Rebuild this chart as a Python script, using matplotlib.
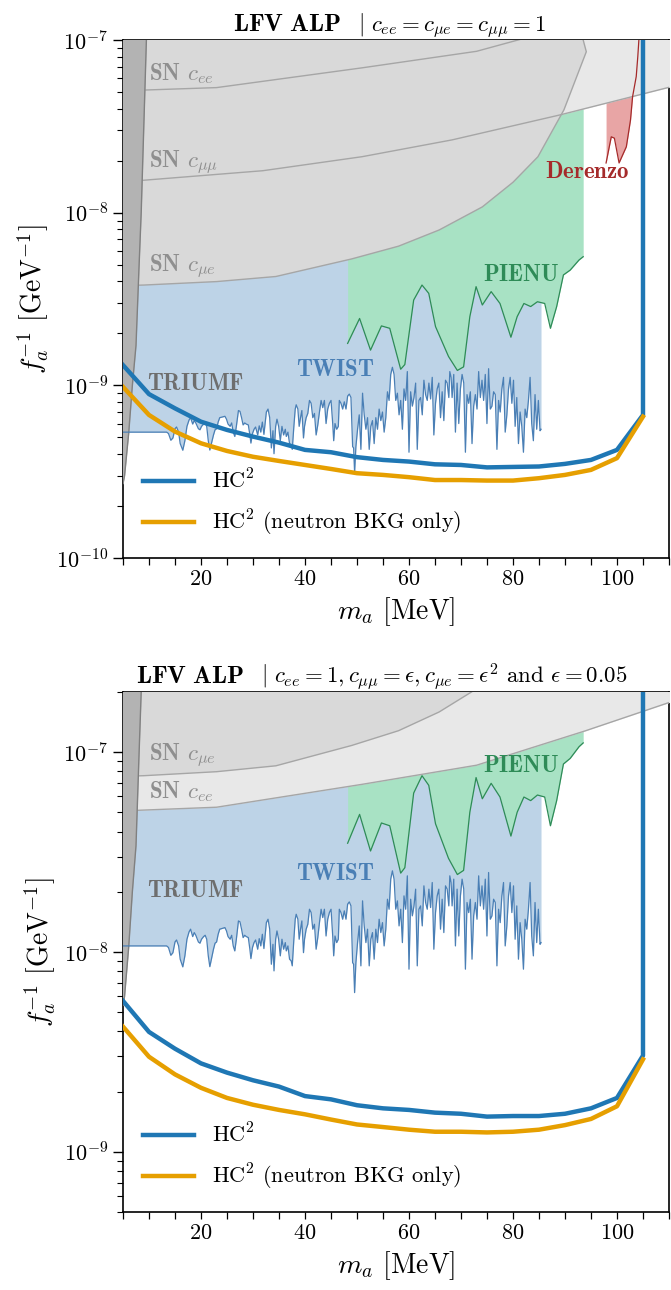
import numpy as np
import matplotlib
matplotlib.use("Agg")
import matplotlib.pyplot as plt
from matplotlib.ticker import MultipleLocator, LogLocator, NullFormatter
from matplotlib.transforms import offset_copy

plt.rcParams.update({
    "font.family": "serif",
    "font.serif": ["cmr10"],
    "mathtext.fontset": "cm",
    "axes.formatter.use_mathtext": True,
    "axes.linewidth": 1.2,
})

eps = 0.05
TOP = 1e-4  # fills are open towards large couplings

# HC^2 projected reach, GeV^-1, on a 5 MeV grid (last point: threshold)
m_hc2 = [5, 10, 15, 20, 25, 30, 35, 40, 45, 50, 55, 60, 65, 70, 75, 80,
         85, 90, 95, 100, 105]
hc2_a = [1.31e-9, 8.9e-10, 7.36e-10, 6.16e-10, 5.52e-10, 5.05e-10, 4.66e-10,
         4.23e-10, 4.10e-10, 3.84e-10, 3.70e-10, 3.62e-10, 3.49e-10, 3.46e-10,
         3.35e-10, 3.37e-10, 3.39e-10, 3.51e-10, 3.70e-10, 4.23e-10, 6.74e-10]
hc2n_a = [9.8e-10, 6.74e-10, 5.40e-10, 4.62e-10, 4.17e-10, 3.86e-10, 3.65e-10,
          3.46e-10, 3.28e-10, 3.10e-10, 3.03e-10, 2.94e-10, 2.83e-10, 2.83e-10,
          2.81e-10, 2.81e-10, 2.90e-10, 3.03e-10, 3.24e-10, 3.79e-10, 6.59e-10]
hc2_b = [5.69e-9, 3.98e-9, 3.28e-9, 2.77e-9, 2.49e-9, 2.28e-9, 2.12e-9,
         1.90e-9, 1.83e-9, 1.71e-9, 1.65e-9, 1.62e-9, 1.57e-9, 1.55e-9,
         1.50e-9, 1.51e-9, 1.51e-9, 1.55e-9, 1.65e-9, 1.86e-9, 3.03e-9]
hc2n_b = [4.23e-9, 2.99e-9, 2.44e-9, 2.09e-9, 1.86e-9, 1.72e-9, 1.62e-9,
          1.54e-9, 1.45e-9, 1.37e-9, 1.33e-9, 1.29e-9, 1.26e-9, 1.26e-9,
          1.25e-9, 1.26e-9, 1.29e-9, 1.36e-9, 1.46e-9, 1.69e-9, 2.90e-9]
m_thr = 105.0

# TWIST (and TRIUMF plateau) for c_mue = 1: (m_a [MeV], f_a^-1 [1e-10 GeV^-1])
twist_pts = [
    (5.0, 5.36), (13.4, 5.36), (13.75, 5.26), (14.2, 4.81), (14.6, 4.96),
    (15.0, 5.61), (15.3, 5.74), (15.7, 5.36), (16.0, 4.60), (16.5, 4.21),
    (16.9, 4.78), (17.3, 5.79), (17.7, 6.30), (18.0, 6.50), (18.4, 5.97),
    (18.7, 6.25), (19.0, 6.06), (19.5, 5.61), (19.8, 5.53), (20.1, 5.79),
    (20.5, 5.97), (20.8, 6.06), (21.1, 5.79), (21.4, 4.78), (21.7, 4.22),
    (22.0, 4.60), (22.4, 5.16), (22.7, 5.53), (23.0, 5.61), (23.3, 6.13),
    (23.6, 6.50), (24.0, 6.55), (24.3, 6.58), (24.6, 6.62), (24.9, 6.37),
    (25.2, 5.97), (25.6, 5.79), (25.9, 6.06), (26.2, 5.36), (26.5, 5.06),
    (26.8, 5.79), (27.2, 7.15), (27.5, 7.07), (27.8, 6.50), (28.1, 5.90),
    (28.4, 6.06), (28.7, 5.97), (29.1, 5.90), (29.4, 5.16), (29.6, 4.63),
    (29.9, 5.26), (30.2, 5.57), (30.5, 5.74), (30.9, 5.16), (31.2, 5.83),
    (31.5, 5.36), (31.8, 6.13), (32.1, 5.20), (32.57, 7.01), (32.89, 7.29),
    (33.21, 6.50), (33.53, 4.34), (33.84, 5.46), (34.04, 4.02), (34.36, 5.79),
    (34.61, 6.37), (34.93, 5.79), (35.25, 4.78), (35.57, 5.79), (35.89, 5.16),
    (36.21, 5.57), (36.40, 5.06), (36.72, 5.36), (37.03, 4.60), (37.35, 4.51),
    (37.55, 4.26), (37.86, 5.79), (38.12, 7.29), (38.31, 7.72), (38.63, 7.29),
    (38.88, 5.79), (39.14, 6.50), (39.40, 7.15), (39.71, 4.96), (39.91, 5.79),
    (40.22, 6.50), (40.54, 6.88), (40.86, 8.18), (41.18, 7.87), (41.50, 6.50),
    (41.82, 6.88), (42.14, 5.16), (42.46, 5.90), (42.78, 7.01), (43.10, 8.18),
    (43.41, 7.43), (43.73, 8.18), (44.05, 6.01), (44.37, 7.29), (44.69, 7.87),
    (45.01, 8.18), (45.33, 6.01), (45.52, 4.78), (45.77, 6.01), (46.09, 5.57),
    (46.41, 5.79), (46.60, 8.18), (46.92, 7.87), (47.24, 7.29), (47.56, 8.03),
    (47.88, 7.29), (48.20, 8.67), (48.52, 8.90), (48.84, 8.50), (49.16, 4.42),
    (49.35, 4.34), (49.54, 3.13), (49.79, 4.42), (50.11, 5.57), (50.43, 6.75),
    (50.75, 4.26), (51.07, 9.01), (51.39, 6.75), (51.71, 5.57), (52.03, 6.50),
    (52.35, 4.26), (52.66, 5.79), (52.98, 6.25), (53.30, 4.60), (53.62, 6.50),
    (53.94, 5.57), (54.26, 7.29), (54.58, 6.25), (54.90, 7.01), (55.22, 5.36),
    (55.54, 6.50), (55.86, 9.18), (56.17, 8.18), (56.49, 11.57), (56.81, 12.73),
    (57.13, 11.57), (57.45, 8.18), (57.77, 9.01), (58.09, 6.75), (58.41, 8.18),
    (58.73, 5.57), (59.04, 9.54), (59.36, 8.18), (59.68, 12.02), (60.00, 4.10),
    (60.32, 9.18), (60.64, 7.58), (60.96, 8.50), (61.28, 10.31), (61.59, 4.26),
    (61.91, 8.18), (62.23, 8.50), (62.55, 6.75), (62.87, 10.71), (63.19, 8.84),
    (63.51, 8.18), (63.83, 10.31), (64.15, 8.34), (64.47, 11.13), (64.78, 5.16),
    (65.10, 7.87), (65.42, 9.54), (65.74, 10.31), (66.06, 6.50), (66.38, 9.18),
    (66.70, 6.25), (67.02, 10.71), (67.34, 10.31), (67.66, 8.50), (67.85, 12.02),
    (68.10, 11.13), (68.29, 8.50), (68.61, 11.57), (68.93, 5.36), (69.25, 10.31),
    (69.57, 6.01), (69.89, 9.54), (70.21, 11.57), (70.53, 10.31), (70.85, 4.10),
    (71.16, 8.84), (71.48, 7.87), (71.80, 9.18), (72.12, 4.60), (72.44, 7.58),
    (72.76, 8.84), (73.08, 7.29), (73.40, 12.02), (73.72, 8.50), (74.04, 10.71),
    (74.35, 8.18), (74.67, 11.57), (74.99, 6.01), (75.31, 12.49), (75.63, 7.29),
    (75.95, 7.58), (76.27, 9.18), (76.59, 8.84), (76.91, 4.26), (77.23, 8.18),
    (77.54, 7.01), (77.86, 9.54), (78.18, 11.13), (78.50, 5.36), (78.82, 6.75),
    (79.14, 9.54), (79.46, 11.13), (79.78, 7.87), (80.10, 10.71), (80.41, 5.79),
    (80.73, 8.50), (81.05, 4.60), (81.37, 7.01), (81.69, 5.79), (82.01, 4.10),
    (82.33, 7.29), (82.65, 6.50), (82.97, 8.18), (83.29, 11.13), (83.60, 6.01),
    (83.92, 4.78), (84.24, 8.84), (84.56, 5.57), (84.88, 8.18), (85.20, 5.46),
    (85.39, 5.57),
]
twist_m = np.array([p[0] for p in twist_pts])
twist_v = np.array([p[1] for p in twist_pts]) * 1e-10

# PIENU for c_mue = 1
pienu_m = [48.2, 50.5, 52.6, 54.7, 56.3, 58.4, 59.2, 60.9, 62.5, 63.8, 65.1,
           67.6, 69.3, 70.5, 71.7, 72.9, 74.1, 75.8, 77.5, 79.6, 80.8, 82.1,
           83.4, 84.7, 86.1, 87.2, 88.4, 89.7, 91.0, 92.7, 93.5]
pienu_v = np.array([17.5, 24.4, 16.0, 22.1, 21.4, 12.4, 13.2, 31.2, 38.1,
                    34.1, 21.9, 14.7, 12.2, 12.8, 25.0, 37.3, 29.2, 34.9, 29.8,
                    19.0, 25.0, 29.8, 28.6, 30.5, 29.8, 21.4, 28.6, 43.6, 46.5,
                    53.2, 55.6]) * 1e-10

# Derenzo for c_mue = 1
der_m = [97.9, 98.9, 99.5, 100.4, 101.8, 102.6, 103.0, 103.7, 104.0, 104.3]
der_v = np.array([1.94e-8, 2.75e-8, 2.70e-8, 1.94e-8, 2.41e-8, 3.44e-8,
                  4.70e-8, 6.14e-8, 8.0e-8, 1.1e-7])

# supernova bounds
sn_ee_m = [0, 5, 23, 51, 73, 94, 110, 115]
sn_ee_v = np.array([5.05e-8, 5.08e-8, 5.3e-8, 6.9e-8, 8.6e-8, 1.28e-7,
                    1.77e-7, 1.9e-7])
sn_mumu_m = [0, 5.3, 31.9, 51.0, 68.3, 89.0, 110, 115]
sn_mumu_v = np.array([1.5e-8, 1.51e-8, 1.75e-8, 2.11e-8, 2.64e-8, 3.68e-8,
                      5.32e-8, 5.6e-8])
sn_mue_m = [0, 9, 23, 34.4, 49, 58, 65.8, 74.1, 80, 84.8, 89.8, 94.1, 93.5, 93.0]
sn_mue_v = np.array([3.75e-9, 3.81e-9, 3.99e-9, 4.27e-9, 5.4e-9, 6.4e-9,
                     7.94e-9, 1.08e-8, 1.5e-8, 2.11e-8, 3.94e-8, 8.55e-8,
                     1.0e-7, 2.0e-7])

# low-mass excluded band (edge m_a vs f_a^-1), c_mue = 1
band_m = [5.0, 5.3, 6.1, 6.8, 7.5, 8.1, 8.5, 9.5, 9.8]
band_v = np.array([2.7e-10, 3.0e-10, 5.3e-10, 1.0e-9, 1.7e-9, 5e-9, 1e-8,
                   1e-7, 2e-7])

C_HC2 = "#1f77b4"
C_HC2N = "#e69f00"
C_TWIST = "#4a7fb5"
C_PIENU = "#2e8b57"
C_DER = "#a52a2a"
C_SN = "#8f8f8f"


def draw(ax, s_mue, s_mumu, hc2, hc2n, ylim, title, labels):
    ax.set_yscale("log")

    tw = twist_v * s_mue
    ax.fill_between(twist_m, tw, TOP, color="#bdd3e7", lw=0, zorder=1)
    ax.plot(twist_m, tw, color=C_TWIST, lw=0.9, zorder=6)

    pi = pienu_v * s_mue
    ax.fill_between(pienu_m, pi, TOP, color="#a8e2c4", lw=0, zorder=2)
    ax.plot(pienu_m, pi, color=C_PIENU, lw=0.9, zorder=2.5)

    de = der_v * s_mue
    ax.fill_between(der_m, de, TOP, color="#e8a5a5", lw=0, zorder=2)
    ax.plot(der_m, de, color=C_DER, lw=0.9, zorder=5.5)

    mm = sn_mumu_v * s_mumu
    ax.fill_between(sn_mumu_m, mm, TOP, color="#e8e8e8", lw=0, zorder=3)
    ax.fill_between(sn_ee_m, sn_ee_v, TOP, color="#e8e8e8", lw=0, zorder=3)
    me = sn_mue_v * s_mue
    ax.fill(list(sn_mue_m) + [93.0, 0], list(me) + [TOP, TOP],
            color="#d9d9d9", lw=0, zorder=3.5)
    for xs, ys in [(sn_mumu_m, mm), (sn_ee_m, sn_ee_v), (sn_mue_m, me)]:
        ax.plot(xs, ys, color="#a6a6a6", lw=1.0, zorder=4)

    bv = band_v * s_mue
    ax.fill_betweenx(bv, 0, band_m, color="#b3b3b3", lw=0, zorder=5)
    ax.plot(band_m, bv, color="#808080", lw=1.0, zorder=5)

    ax.plot(m_hc2 + [m_thr], hc2 + [TOP], color=C_HC2, lw=3.2, zorder=7,
            label=r"HC$^2$")
    ax.plot(m_hc2, hc2n, color=C_HC2N, lw=3.2, zorder=7,
            label=r"HC$^2$ (neutron BKG only)")

    for txt, x, y, s, c, ha in labels:
        ax.text(x, y * s, txt, color=c, fontsize=16.5, ha=ha, va="center",
                zorder=8)

    ax.set_xlim(5, 110)
    ax.set_ylim(*ylim)
    ax.xaxis.set_major_locator(MultipleLocator(20))
    ax.xaxis.set_minor_locator(MultipleLocator(5))
    ax.yaxis.set_major_locator(LogLocator(base=10))
    ax.yaxis.set_minor_locator(LogLocator(base=10, subs=np.arange(2, 10)))
    ax.yaxis.set_minor_formatter(NullFormatter())
    ax.tick_params(axis="both", which="major", labelsize=16, direction="out")
    ax.tick_params(axis="y", which="major", length=7, width=1)
    ax.tick_params(axis="y", which="minor", length=4, width=0.8)
    ax.tick_params(axis="x", which="both", length=5, width=0.9)

    ax.set_xlabel(r"$m_a$ [MeV]", fontsize=20)
    ax.set_ylabel(r"$f_a^{-1}$ [GeV$^{-1}$]", fontsize=20)

    # title: bold tag on the left of the bar, couplings on the right
    tag, cond, x_split = title
    tr = offset_copy(ax.transAxes, fig=ax.figure, y=9, units="dots")
    ax.text(x_split - 0.03, 1.0, r"$\mathbf{LFV\ ALP}$", transform=tr,
            fontsize=18, ha="right", va="baseline")
    ax.text(x_split, 1.0, cond, transform=tr, fontsize=16.5, ha="left",
            va="baseline")

    ax.legend(loc="lower left", frameon=False, fontsize=16, handlelength=2.3,
              labelspacing=0.7, borderaxespad=0.5)


fig = plt.figure(figsize=(6.71, 12.9), dpi=100)
ax1 = fig.add_axes([0.1833, 0.5674, 0.8137, 0.4016])
ax2 = fig.add_axes([0.1833, 0.0605, 0.8137, 0.4031])

sn = r"$\mathbf{SN}$ "
labels_top = [
    (sn + r"$c_{ee}$", 10.0, 6.4e-8, 1, C_SN, "left"),
    (sn + r"$c_{\mu\mu}$", 10.0, 1.97e-8, 1, C_SN, "left"),
    (sn + r"$c_{\mu e}$", 10.0, 4.86e-9, 1, C_SN, "left"),
    (r"$\mathbf{PIENU}$", 81.5, 4.36e-9, 1, C_PIENU, "center"),
    (r"$\mathbf{TWIST}$", 45.8, 1.24e-9, 1, C_TWIST, "center"),
    (r"$\mathbf{TRIUMF}$", 18.9, 1.02e-9, 1, "#6e6e6e", "center"),
    (r"$\mathbf{Derenzo}$", 94.3, 1.73e-8, 1, C_DER, "center"),
]
labels_bot = [
    (sn + r"$c_{\mu e}$", 10.0, 4.8e-9, 1 / eps, C_SN, "left"),
    (sn + r"$c_{ee}$", 10.0, 6.34e-8, 1, C_SN, "left"),
    (r"$\mathbf{PIENU}$", 81.5, 4.3e-9, 1 / eps, C_PIENU, "center"),
    (r"$\mathbf{TWIST}$", 45.8, 1.24e-9, 1 / eps, C_TWIST, "center"),
    (r"$\mathbf{TRIUMF}$", 18.9, 1.02e-9, 1 / eps, "#6e6e6e", "center"),
]

draw(ax1, 1.0, 1.0, hc2_a, hc2n_a, (1e-10, 1e-7),
     ("LFV ALP", r"$|\ c_{ee}=c_{\mu e}=c_{\mu\mu}=1$", 0.43), labels_top)
draw(ax2, 1 / eps, 1 / eps, hc2_b, hc2n_b, (5e-10, 2e-7),
     ("LFV ALP", r"$|\ c_{ee}=1, c_{\mu\mu}=\epsilon, c_{\mu e}=\epsilon^2$"
      r" and $\epsilon=0.05$", 0.253), labels_bot)

fig.savefig("out.png", dpi=100)
